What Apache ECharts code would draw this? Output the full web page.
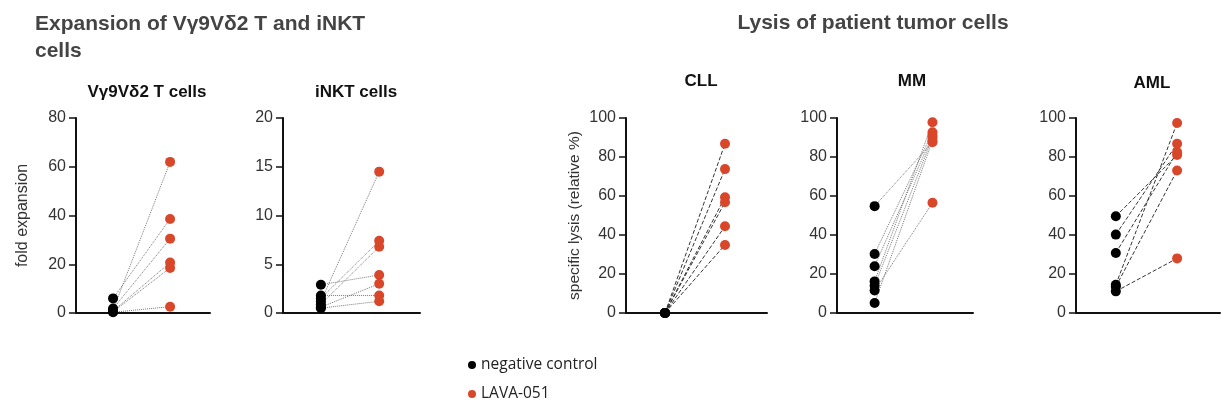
<!DOCTYPE html>
<html><head><meta charset="utf-8">
<script src="https://cdn.jsdelivr.net/npm/echarts@6/dist/echarts.min.js"></script>
<style>html,body{margin:0;padding:0;background:#fff}#c{width:1221px;height:408px}</style>
</head><body><div id="c"></div>
<script>
// groups (x positions 0 and 1)
const groups = ['negative control', 'LAVA-051'];
// Panel titles
const panelTitles = ['Vγ9Vδ2 T cells', 'iNKT cells', 'CLL', 'MM', 'AML'];
// y-axis maxima / intervals
const yMax = [80, 20, 100, 100, 100];
const yInterval = [20, 5, 20, 20, 20];
// paired values: control (black) and LAVA-051 (red)
const vgControl = [6.0, 1.8, 1.2, 0.8, 0.5, 0.3];
const vgLava    = [38.6, 30.5, 62, 20.7, 18.5, 2.6];
const inktControl = [2.9, 1.8, 1.5, 1.2, 0.9, 0.6, 0.5];
const inktLava    = [3.9, 1.8, 7.4, 14.5, 6.8, 3.0, 1.2];
const cllControl = [0, 0, 0, 0, 0, 0];
const cllLava    = [86.8, 73.8, 59.4, 56.8, 44.5, 34.9];
const mmControl = [54.8, 30.3, 24, 16.2, 14, 11.5, 5.1];
const mmLava    = [87.6, 92.7, 91, 97.8, 90, 56.5, 88.5];
const amlControl = [49.6, 40.2, 30.8, 14.5, 13.5, 11.1];
const amlLava    = [81, 86.8, 82.5, 97.4, 73.1, 28];

const panels = [
  {c: vgControl, l: vgLava, dash: 'dotted', lc: '#777'},
  {c: inktControl, l: inktLava, dash: 'dotted', lc: '#777'},
  {c: cllControl, l: cllLava, dash: [4, 2], lc: '#333'},
  {c: mmControl, l: mmLava, dash: 'dotted', lc: '#777'},
  {c: amlControl, l: amlLava, dash: [4, 2], lc: '#333'}
];
const gridPos = [
  {left: 76, width: 134}, {left: 283, width: 137}, {left: 626, width: 141},
  {left: 837, width: 136}, {left: 1076, width: 144}
];
const titleCenters = [[142, 79], [351, 79], [696, 68], [907, 68], [1147, 70]];

const font = 'Liberation Sans, Arial, sans-serif';
const grid = [], xAxis = [], yAxis = [], series = [], titles = [];
titles.push({text: 'Expansion of Vγ9Vδ2 T and iNKT\ncells', left: 30, top: 6,
  textStyle: {fontFamily: font, fontWeight: 'bold', fontSize: 21, color: '#444', lineHeight: 27}});
titles.push({text: 'Lysis of patient tumor cells', left: 868, top: 8, textAlign: 'center',
  textStyle: {fontFamily: font, fontWeight: 'bold', fontSize: 21, color: '#444'}});
panels.forEach((p, i) => {
  grid.push({left: gridPos[i].left, width: gridPos[i].width, top: 118, height: 195});
  titles.push({text: panelTitles[i], left: titleCenters[i][0], top: titleCenters[i][1], textAlign: 'center',
    textStyle: {fontFamily: font, fontWeight: 'bold', fontSize: 17, color: '#111'}});
  xAxis.push({gridIndex: i, type: 'value', min: -0.65, max: 1.7, show: true,
    axisLine: {onZero: false, lineStyle: {color: '#111', width: 2}}, axisTick: {show: false},
    axisLabel: {show: false}, splitLine: {show: false}});
  const ya = {gridIndex: i, type: 'value', min: 0, max: yMax[i], interval: yInterval[i],
    axisLine: {show: true, onZero: false, lineStyle: {color: '#111', width: 2}},
    axisTick: {show: true, length: 7, lineStyle: {color: '#111', width: 1.5}},
    axisLabel: {fontFamily: font, fontSize: 16, color: '#333', margin: 10},
    splitLine: {show: false}};
  if (i === 0) Object.assign(ya, {name: 'fold expansion', nameLocation: 'middle', nameGap: 45,
    nameTextStyle: {fontFamily: font, fontSize: 16, color: '#333'}});
  if (i === 2) Object.assign(ya, {name: 'specific lysis (relative %)', nameLocation: 'middle', nameGap: 43,
    nameTextStyle: {fontFamily: font, fontSize: 15.5, color: '#333'}});
  yAxis.push(ya);
  p.c.forEach((v, k) => {
    series.push({type: 'line', xAxisIndex: i, yAxisIndex: i, symbol: 'none', silent: true,
      lineStyle: {color: p.lc, width: 1, type: p.dash},
      data: [[0, v], [1, p.l[k]]], z: 1});
  });
  series.push({name: groups[0], type: 'scatter', xAxisIndex: i, yAxisIndex: i, symbolSize: 10,
    itemStyle: {color: '#000', opacity: 1}, data: p.c.map(v => [0, v]), z: 3});
  series.push({name: groups[1], type: 'scatter', xAxisIndex: i, yAxisIndex: i, symbolSize: 10,
    itemStyle: {color: '#d9472b', opacity: 1}, data: p.l.map(v => [1, v]), z: 3});
});
const chart = echarts.init(document.getElementById('c'), null, {renderer: 'canvas'});
chart.setOption({
  animation: false,
  title: titles,
  grid, xAxis, yAxis, series,
  legend: {data: groups, orient: 'vertical', left: 463, top: 352, itemGap: 13,
    icon: 'circle', itemWidth: 8, itemHeight: 8,
    textStyle: {fontFamily: 'Open Sans', fontSize: 15.5, color: '#222'}}
});
</script></body></html>
